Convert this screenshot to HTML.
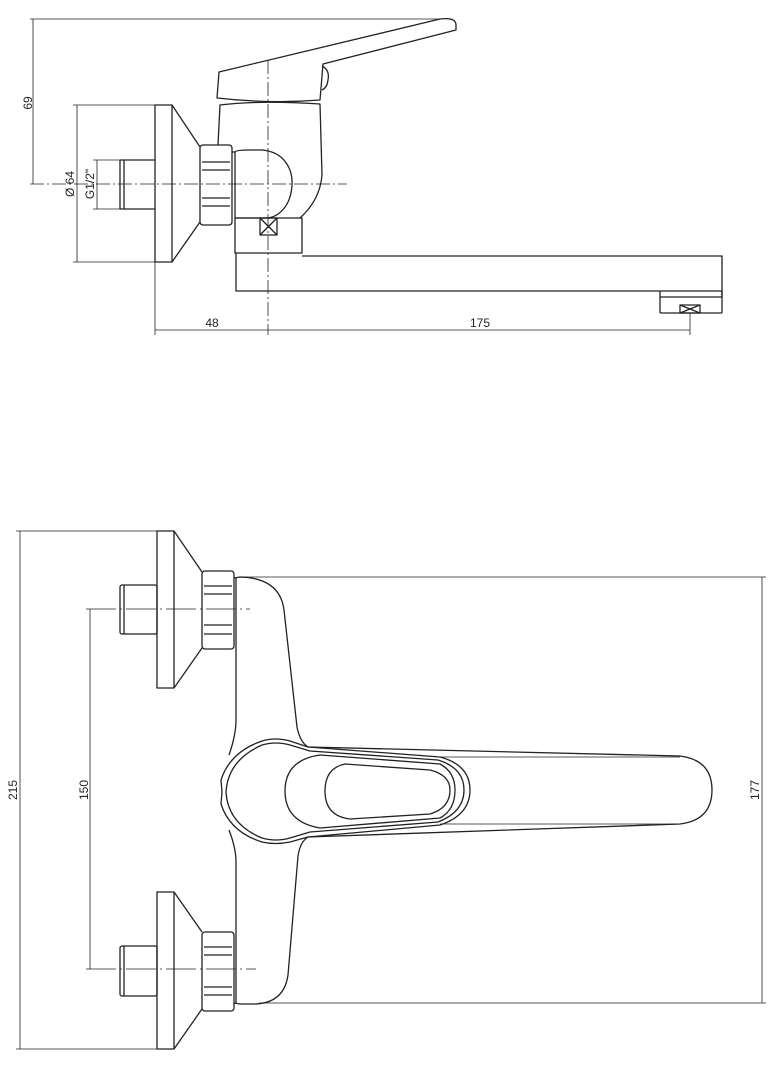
<!DOCTYPE html>
<html><head><meta charset="utf-8"><style>
html,body{margin:0;padding:0;background:#fff}
svg{display:block}
text{font-family:"Liberation Sans",sans-serif;font-size:12px;fill:#222}
</style></head><body>
<svg width="774" height="1071" viewBox="0 0 774 1071" xmlns="http://www.w3.org/2000/svg">
<g fill="none" stroke="#222" stroke-width="1.3" stroke-linejoin="round">
<!-- ===== TOP VIEW ===== -->
<!-- dims -->
<g stroke-width="0.8">
<line x1="30" y1="19" x2="442" y2="19"/>
<line x1="33" y1="19" x2="33" y2="184"/>
<line x1="73" y1="105" x2="155" y2="105"/>
<line x1="73" y1="262" x2="155" y2="262"/>
<line x1="77" y1="105" x2="77" y2="262"/>
<line x1="93" y1="160" x2="120" y2="160"/>
<line x1="93" y1="209" x2="120" y2="209"/>
<line x1="97" y1="160" x2="97" y2="209"/>
<line x1="155" y1="262" x2="155" y2="335"/>
<line x1="690" y1="313" x2="690" y2="335"/>
<line x1="155" y1="330" x2="690" y2="330"/>
<line x1="30" y1="184" x2="347" y2="184" stroke-dasharray="14,3,2,3"/>
<line x1="268" y1="60" x2="268" y2="335" stroke-dasharray="14,3,2,3"/>
</g>
<!-- escutcheon -->
<rect x="155" y="105" width="17" height="157"/>
<polyline points="172,105 200,147"/>
<polyline points="172,262 200,222"/>
<!-- pipe -->
<polyline points="155,160 120,160 120,209 155,209"/>
<line x1="124" y1="160" x2="124" y2="209"/>
<!-- nut -->
<rect x="200" y="145" width="32" height="80" rx="3"/>
<line x1="202" y1="162" x2="230" y2="162"/>
<line x1="202" y1="170" x2="230" y2="170"/>
<line x1="202" y1="198" x2="230" y2="198"/>
<line x1="202" y1="206" x2="230" y2="206"/>
<line x1="232" y1="152" x2="235" y2="152"/>
<!-- dome -->
<path d="M235,152 Q236,150 250,150 L262,150 C285,152 293,170 292,185 C291,205 280,216 268,218 L235,218 Z"/>
<!-- body -->
<path d="M218,145 L220,105 Q262,100 320,104 L322,175 Q320,200 300,218"/>
<!-- handle -->
<path d="M217,98 L219,72 L440,19 Q456,17 456,25 L456,30 L323,64 L320,100 Q270,104 217,98 Z"/>
<path d="M322,66 Q330,70 328,80 Q327,88 322,90"/>
<!-- block -->
<rect x="235" y="218" width="67" height="35"/>
<rect x="260" y="218" width="17" height="17"/>
<line x1="260" y1="218" x2="277" y2="235"/>
<line x1="277" y1="218" x2="260" y2="235"/>
<!-- spout -->
<polyline points="302,256 722,256 722,297"/>
<polyline points="236,253 236,291 660,291"/>
<rect x="660" y="291" width="62" height="22" rx="1"/>
<line x1="660" y1="297" x2="722" y2="297"/>
<rect x="680" y="305" width="20" height="8"/>
<line x1="680" y1="305" x2="700" y2="313"/>
<line x1="700" y1="305" x2="680" y2="313"/>

<!-- ===== BOTTOM VIEW ===== -->
<g stroke-width="0.8">
<line x1="16" y1="531" x2="160" y2="531"/>
<line x1="16" y1="1049" x2="160" y2="1049"/>
<line x1="20" y1="531" x2="20" y2="1049"/>
<line x1="86" y1="609" x2="250" y2="609" stroke-dasharray="30,4,2,4"/>
<line x1="86" y1="969" x2="256" y2="969" stroke-dasharray="30,4,2,4"/>
<line x1="90" y1="609" x2="90" y2="969"/>
<line x1="240" y1="577" x2="766" y2="577"/>
<line x1="259" y1="1003" x2="766" y2="1003"/>
<line x1="762" y1="577" x2="762" y2="1003"/>
<line x1="440" y1="757" x2="680" y2="757"/>
<line x1="440" y1="824" x2="680" y2="824"/>
</g>
<!-- top escutcheon -->
<rect x="157" y="531" width="17" height="157"/>
<polyline points="174,531 202,572"/>
<polyline points="174,688 202,648"/>
<rect x="120" y="585" width="37" height="49" rx="2"/>
<line x1="124" y1="585" x2="124" y2="634"/>
<rect x="202" y="571" width="32" height="78" rx="3"/>
<line x1="204" y1="586" x2="232" y2="586"/>
<line x1="204" y1="594" x2="232" y2="594"/>
<line x1="204" y1="625" x2="232" y2="625"/>
<line x1="204" y1="634" x2="232" y2="634"/>
<!-- bottom escutcheon -->
<rect x="157" y="892" width="17" height="157"/>
<polyline points="174,892 202,932"/>
<polyline points="174,1049 202,1009"/>
<rect x="120" y="946" width="37" height="50" rx="2"/>
<line x1="124" y1="946" x2="124" y2="996"/>
<rect x="202" y="932" width="32" height="79" rx="3"/>
<line x1="204" y1="947" x2="232" y2="947"/>
<line x1="204" y1="955" x2="232" y2="955"/>
<line x1="204" y1="987" x2="232" y2="987"/>
<line x1="204" y1="995" x2="232" y2="995"/>
<!-- body -->
<path d="M234,578 L240,577 Q280,578 284,610 L297,727 Q300,742 308,747"/>
<path d="M308,837 Q300,842 298,856 L288,975 Q284,1003 255,1004 L240,1004 L234,1003"/>
<path d="M236,578 L236,720 Q236,735 229,755"/>
<path d="M229,830 Q236,848 236,862 L236,1003"/>
<!-- handle lever -->
<path d="M308,747 L680,756 Q712,760 712,790 Q712,820 680,824 L308,837"/>
<path d="M222,792 L221,780 Q230,752 262,741 Q275,737 290,741 L308,747 L440,757 Q470,765 470,790 Q470,815 440,825 L308,837 L290,842 Q275,845 262,842 Q230,832 221,804 Z"/>
<path d="M226,792 Q228,760 262,745 Q276,741 290,745 L310,751 L438,760 Q464,768 464,790 Q464,812 438,822 L310,832 L290,838 Q276,842 262,838 Q228,824 226,792 Z"/>
<path d="M320,755 L440,764 Q455,772 455,790 Q455,810 440,818 L320,828 Q285,822 285,791 Q285,760 320,755 Z"/>
<path d="M345,764 L430,770 Q450,775 450,790 Q450,808 430,814 L350,819 Q325,816 325,791 Q325,768 345,764 Z"/>
</g>
<g>
<text transform="translate(32,103) rotate(-90)" text-anchor="middle">69</text>
<text transform="translate(74,184) rotate(-90)" text-anchor="middle">Ø 64</text>
<text transform="translate(94,184) rotate(-90)" text-anchor="middle">G1/2"</text>
<text x="212" y="327" text-anchor="middle">48</text>
<text x="480" y="327" text-anchor="middle">175</text>
<text transform="translate(17,790) rotate(-90)" text-anchor="middle">215</text>
<text transform="translate(88,790) rotate(-90)" text-anchor="middle">150</text>
<text transform="translate(759,790) rotate(-90)" text-anchor="middle">177</text>
</g>
</svg>
</body></html>
